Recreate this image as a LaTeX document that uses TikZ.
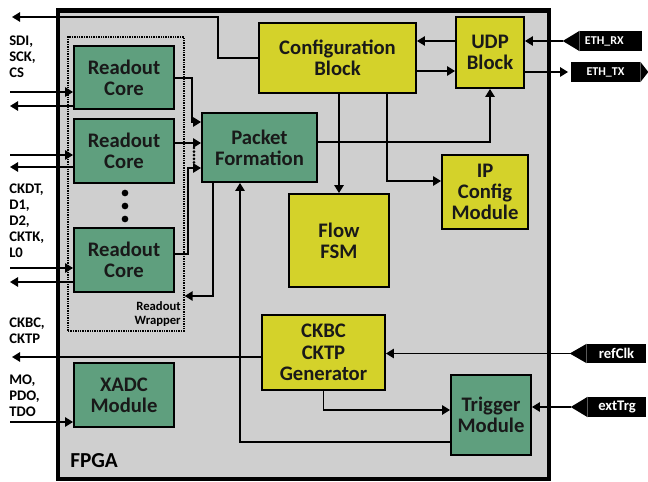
\documentclass[tikz,border=0pt]{standalone}
\usepackage{fontspec}
\setmainfont{Carlito}
\usetikzlibrary{arrows.meta,calc}
\definecolor{bggray}{HTML}{CFCFCF}
\definecolor{gfill}{HTML}{5F9F7E}
\definecolor{yfill}{HTML}{D4D22A}
\newcommand\boxfnt{\fontsize{15.5}{16}\selectfont\bfseries}
\newcommand\lblfnt{\fontsize{11}{12}\selectfont\bfseries}
\begin{document}
\begin{tikzpicture}[x=0.75pt,y=-0.75pt,
  sz/.style 2 args={minimum width=#1*0.75pt, minimum height=#2*0.75pt},
  fpgabox/.style={draw, line width=3.4pt, fill=bggray, inner sep=0pt},
  gbox/.style={draw, line width=1.4pt, fill=gfill, inner sep=0pt, align=center, font=\boxfnt, text=black!90},
  ybox/.style={draw, line width=1.4pt, fill=yfill, inner sep=0pt, align=center, font=\boxfnt, text=black!90},
  wrapbox/.style={draw, line width=1pt, dash pattern=on 1pt off 0.8pt, inner sep=0pt},
  tagbox/.style={fill=black, inner sep=0pt, text=white},
  lbl/.style={inner sep=0pt, align=left, font=\lblfnt, anchor=north west},
  conn/.style={line width=1.3pt, -{Triangle[length=6pt,width=7pt]}},
  dotc/.style={circle, fill=black, inner sep=0pt, minimum size=5pt},
  dotline/.style={line width=2.2pt, dash pattern=on 0pt off 2.7pt, line cap=round}]
\useasboundingbox (0,0) rectangle (648,481);

% FPGA frame
\node[fpgabox, sz={491}{468.5}] (fpga) at (303.5,244.75) {};
\node[anchor=base west, inner sep=0pt, font=\fontsize{16}{16}\selectfont\bfseries] (fpgalbl) at (70,467) {FPGA};

% Readout wrapper
\node[wrapbox, sz={116}{294}] (wrap) at (126,184) {};
\node[anchor=east, align=right, inner sep=0pt, font=\fontsize{9.5}{10.5}\selectfont\bfseries] (wraplbl) at (181,314) {Readout\\Wrapper};

% blocks
\node[gbox, sz={100}{63}] (rc1) at (124,77.5) {Readout\\Core};
\node[gbox, sz={100}{64}] (rc2) at (124,151) {Readout\\Core};
\node[gbox, sz={100}{64}] (rc3) at (124,260) {Readout\\Core};
\node[gbox, sz={100}{64}] (xadc) at (124,395) {XADC\\Module};
\node[gbox, sz={115}{69}] (pf) at (259.5,147.5) {Packet\\Formation};
\node[ybox, sz={157}{70}] (cfg) at (337.5,58) {Configuration\\Block};
\node[ybox, sz={68}{71}] (udp) at (490,52.5) {UDP\\Block};
\node[ybox, sz={100}{93}] (fsm) at (339,240.5) {Flow\\FSM};
\node[ybox, sz={86}{74}] (ip) at (485,192) {IP\\Config\\Module};
\node[ybox, sz={123}{75}] (ckbc) at (323.5,352.5) {CKBC\\CKTP\\Generator};
\node[gbox, sz={80}{80}] (trig) at (491,415) {Trigger\\Module};

\node[dotc] (d1) at (125,193) {};
\node[dotc] (d2) at (125,206) {};
\node[dotc] (d3) at (125,219) {};

% tags
\node[tagbox, font=\fontsize{9}{9}\selectfont\bfseries, sz={62}{20}] (ethrx) at (611,41) {ETH\_RX\hspace*{10pt}};
\coordinate (rxtip) at ($(ethrx.west)+(-17,0)$);
\fill (ethrx.north west) -- (rxtip) -- (ethrx.south west) -- cycle;
\node[tagbox, font=\fontsize{9}{9}\selectfont\bfseries, sz={69}{20}] (ethtx) at (605.5,72) {ETH\_TX};
\coordinate (txtip) at ($(ethtx.east)+(8,0)$);
\fill (ethtx.north east) -- (txtip) -- (ethtx.south east) -- cycle;
\node[tagbox, font=\fontsize{11}{11}\selectfont\bfseries, sz={59}{19}] (refclk) at (616.5,353.5) {refClk};
\coordinate (rctip) at ($(refclk.west)+(-17,0)$);
\fill (refclk.north west) -- (rctip) -- (refclk.south west) -- cycle;
\node[tagbox, font=\fontsize{11}{11}\selectfont\bfseries, sz={58}{20}] (exttrg) at (617,407) {extTrg};
\coordinate (ettip) at ($(exttrg.west)+(-17,0)$);
\fill (exttrg.north west) -- (ettip) -- (exttrg.south west) -- cycle;

% left labels
\node[lbl] (l1) at (9,36) {SDI,\\SCK,\\CS};
\node[lbl] (l2) at (9,184) {CKDT,\\D1,\\D2,\\CKTK,\\L0};
\node[lbl] (l3) at (9,318) {CKBC,\\CKTP};
\node[lbl] (l4) at (9,375) {MO,\\PDO,\\TDO};

% free ends
\coordinate (o0) at (12,17);
\coordinate (i1) at (10,92);
\coordinate (o1) at (10,106);
\coordinate (i2) at (10,155);
\coordinate (o2) at (10,167);
\coordinate (i3) at (10,268);
\coordinate (o3) at (10,282);
\coordinate (o4) at (12,357);
\coordinate (i4) at (10,422);

% connectors
\draw[conn] (cfg.west) -- ++(-40,0) |- (o0);
\draw[conn] (i1) -- (i1 -| rc1.west);
\draw[conn] (o1 -| rc1.west) -- (o1);
\draw[conn] (i2) -- (i2 -| rc2.west);
\draw[conn] (o2 -| rc2.west) -- (o2);
\draw[conn] (i3) -- (i3 -| rc3.west);
\draw[conn] (o3 -| rc3.west) -- (o3);
\draw[conn] (ckbc.west |- o4) -- (o4);
\draw[conn] (i4) -- (i4 -| xadc.west);

\draw[conn] (rc1.east |- 0,78) -- ++(17,0) |- (pf.west |- 0,122);
\draw[conn] (rc2.east |- 0,143) -- (pf.west |- 0,143);
\draw[conn] (rc3.east |- 0,254) -- ++(13,0) |- (pf.west |- 0,168);
\draw[dotline] (194,148) -- (194,165);

\draw[conn] (pf.south -| 213,0) |- (wrap.east |- 0,296);
\draw[conn] (trig.west |- 0,442) -| (pf.south -| 240,0);

\draw[conn] (cfg.south -| fsm.north) -- (fsm.north);
\draw[conn] (cfg.south -| 387,0) |- (ip.west |- 0,181);
\draw[conn] (pf.east |- 0,142) -| (udp.south);
\draw[conn] (udp.west |- 0,41) -- (cfg.east |- 0,41);
\draw[conn] (cfg.east |- 0,71) -- (udp.west |- 0,71);
\draw[conn] (rxtip) -- (rxtip -| udp.east);
\draw[conn, shorten >=2pt] (udp.east |- ethtx.west) -- (ethtx.west);

\draw[conn] (rctip) -- (rctip -| ckbc.east);
\draw[conn] (ckbc.south) |- (trig.west |- 0,410);
\draw[conn] (ettip) -- (ettip -| trig.east);
\end{tikzpicture}
\end{document}
